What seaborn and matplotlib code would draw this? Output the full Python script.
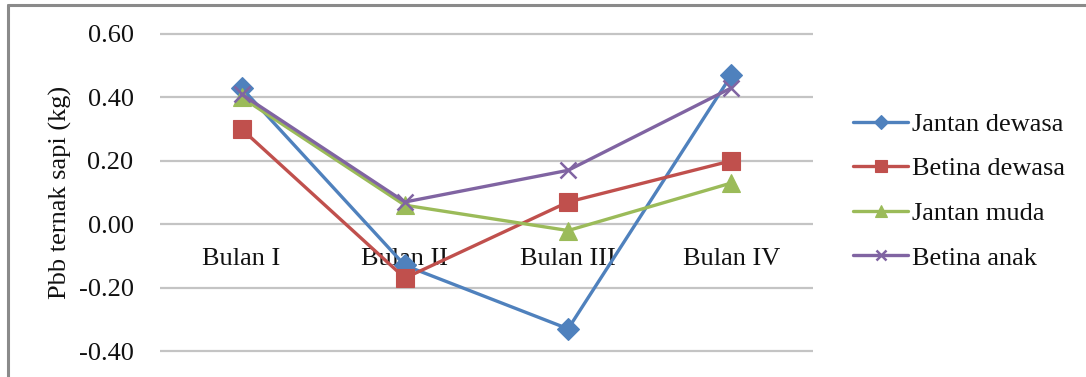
import matplotlib
matplotlib.use("Agg")
import matplotlib.pyplot as plt
from matplotlib.lines import Line2D
import numpy as np
import pandas as pd
import seaborn as sns

# Monthly body-weight gain (kg/day) of cattle per group
months = ["Bulan I", "Bulan II", "Bulan III", "Bulan IV"]
jantan_dewasa = [0.43, -0.13, -0.33, 0.47]
betina_dewasa = [0.30, -0.17, 0.07, 0.20]
jantan_muda = [0.40, 0.06, -0.02, 0.13]
betina_anak = [0.41, 0.07, 0.17, 0.43]

series_names = ["Jantan dewasa", "Betina dewasa", "Jantan muda", "Betina anak"]
series_values = [jantan_dewasa, betina_dewasa, jantan_muda, betina_anak]
colors = ["#4F81BD", "#C0504D", "#9BBB59", "#8064A2"]
markers = ["D", "s", "^", "x"]
marker_sizes = [11, 13.5, 13, 12]

rows = []
for name, vals in zip(series_names, series_values):
    for i, (m, v) in enumerate(zip(months, vals)):
        rows.append({"pos": i, "Bulan": m, "Kelompok": name, "Pbb": v})
df = pd.DataFrame(rows)

sns.set_theme(style="white")
plt.rcParams["font.family"] = ["Liberation Serif", "DejaVu Serif"]

W, H = 1086, 377
fig = plt.figure(figsize=(W / 100, H / 100), dpi=100)
fig.patch.set_facecolor("white")

# axes placement in pixels
ppu = 317.5  # pixels per kg
y_lo, y_hi = -0.41, 0.61
ax_left, ax_right = 160, 813
ax_top = 34 - (y_hi - 0.60) * ppu
ax_bottom = 351 + (-0.40 - y_lo) * ppu
ax = fig.add_axes([ax_left / W, 1 - ax_bottom / H,
                   (ax_right - ax_left) / W, (ax_bottom - ax_top) / H])

for name, col, mk, ms in zip(series_names, colors, markers, marker_sizes):
    sub = df[df["Kelompok"] == name]
    sns.lineplot(data=sub, x="pos", y="Pbb", ax=ax, color=col, linewidth=2.4,
                 marker=mk, markersize=ms, markeredgecolor=col,
                 markeredgewidth=1.8 if mk == "x" else 0.8,
                 label=name, sort=False, zorder=3)

ax.set_xlim(-0.5, len(months) - 0.5)
ax.set_ylim(y_lo, y_hi)
ax.set_yticks(np.arange(-0.4, 0.61, 0.2))
ax.set_yticklabels([f"{t:.2f}" for t in np.arange(-0.4, 0.61, 0.2)])
ax.set_xticks(range(len(months)))
ax.set_xticklabels(months)

ax.grid(axis="y", color="#c4c4c4", linewidth=1.6)
ax.grid(axis="x", visible=False)
ax.set_axisbelow(True)
for s in ["top", "right", "left"]:
    ax.spines[s].set_visible(False)
ax.spines["bottom"].set_position(("data", 0))
ax.spines["bottom"].set_visible(False)

ax.tick_params(axis="x", length=0, pad=17, labelsize=19, colors="#111111")
ax.tick_params(axis="y", length=0, pad=19, labelsize=19, colors="#111111")
ax.set_xlabel("")
ax.set_ylabel("Pbb ternak sapi (kg)", fontsize=19, color="#111111", labelpad=5)

leg = ax.legend(loc="center left", bbox_to_anchor=(853 / W, 1 - 191 / H),
                bbox_transform=fig.transFigure, frameon=False, fontsize=19,
                markerscale=0.62, handlelength=2.1, handletextpad=0.15,
                labelspacing=0.8, borderpad=0, borderaxespad=0)
for t in leg.get_texts():
    t.set_color("#111111")

# chart border (left and top edges)
fig.add_artist(Line2D([8 / W, 8 / W], [0, 1 - 4.5 / H], transform=fig.transFigure,
                      color="#8a8a8a", linewidth=2.2))
fig.add_artist(Line2D([8 / W, 1], [1 - 4.5 / H, 1 - 4.5 / H], transform=fig.transFigure,
                      color="#8a8a8a", linewidth=2.2))

fig.savefig("out.png", dpi=100, facecolor="white")
